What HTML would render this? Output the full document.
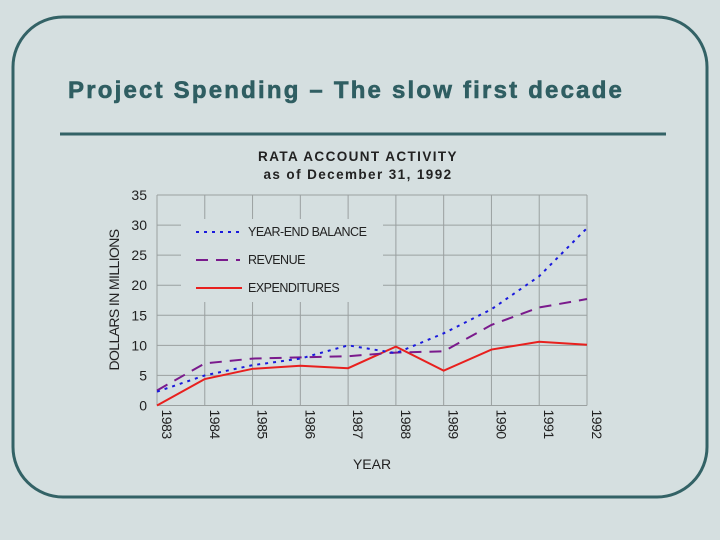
<!DOCTYPE html>
<html><head><meta charset="utf-8"><style>
body{margin:0;background:#d5dfe0;}
svg{display:block;font-family:"Liberation Sans",sans-serif;}
</style></head><body>
<svg id="s" width="720" height="540">
<rect x="0" y="0" width="720" height="540" fill="#d5dfe0"/>
<rect x="13" y="17" width="694" height="480" rx="50" ry="50" fill="none" stroke="#336266" stroke-width="3"/>
<text x="68" y="98" font-size="24" font-weight="bold" fill="#2f5e62" letter-spacing="2.2" stroke="#2f5e62" stroke-width="0.6">Project Spending – The slow first decade</text>
<line x1="60" y1="134" x2="666" y2="134" stroke="#336266" stroke-width="3"/>
<text x="358" y="161" font-size="13.5" font-weight="bold" text-anchor="middle" fill="#222" letter-spacing="1.4">RATA ACCOUNT ACTIVITY</text>
<text x="358" y="179" font-size="13.5" font-weight="bold" text-anchor="middle" fill="#222" letter-spacing="1.4">as of December 31, 1992</text>
<g id="grid"></g>
<rect x="181" y="219" width="202" height="83" fill="#d5dfe0"/>
<g id="series"></g>
<g id="axes"></g>
<text transform="translate(119,300) rotate(-90)" font-size="14" text-anchor="middle" fill="#222" letter-spacing="-0.6">DOLLARS IN MILLIONS</text>
<text x="372" y="469" font-size="14" text-anchor="middle" fill="#222">YEAR</text>
<g>
<line x1="196" y1="232" x2="240" y2="232" stroke="#1a1adc" stroke-width="2" stroke-dasharray="3,5"/>
<text x="248" y="236" font-size="12.5" fill="#222" letter-spacing="-0.5">YEAR-END BALANCE</text>
<line x1="196" y1="260" x2="240" y2="260" stroke="#7a1a8c" stroke-width="2" stroke-dasharray="12,8"/>
<text x="248" y="264" font-size="12.5" fill="#222" letter-spacing="-0.5">REVENUE</text>
<line x1="196" y1="288" x2="242" y2="288" stroke="#e8201e" stroke-width="2"/>
<text x="248" y="292" font-size="12.5" fill="#222" letter-spacing="-0.5">EXPENDITURES</text>
</g>
</svg>
<script>
const years = ["1983","1984","1985","1986","1987","1988","1989","1990","1991","1992"];
const balance = [2.3,5,6.7,7.8,10,8.7,12,16,21.5,29.5];
const revenue = [2.5,7,7.8,8,8.2,8.8,9,13.4,16.3,17.7];
const expenditures = [0,4.4,6.1,6.6,6.2,9.8,5.8,9.3,10.6,10.1];
const yTicks = [0,5,10,15,20,25,30,35];
const NS="http://www.w3.org/2000/svg";
const x0=157,x1=587,y0=405.5,y1=195;
function xs(i){return x0+(x1-x0)*i/(years.length-1);}
function ys(v){return y0-(y0-y1)*v/35;}
function mk(t,a,p){const e=document.createElementNS(NS,t);for(const k in a)e.setAttribute(k,a[k]);p.appendChild(e);return e;}
const grid=document.getElementById('grid'),axes=document.getElementById('axes'),ser=document.getElementById('series');
yTicks.forEach(v=>{
 const l=mk('line',{x1:x0,x2:x1,y1:ys(v),y2:ys(v),stroke:'#9aa0a0','stroke-width':1},grid);
 
 
 const t=mk('text',{x:x0-10,y:ys(v)+5,'font-size':14,'text-anchor':'end',fill:'#222'},axes);
 t.textContent=v;
 
 
});
years.forEach((y,i)=>{
 const l=mk('line',{x1:xs(i),x2:xs(i),y1:y1,y2:y0,stroke:'#9aa0a0','stroke-width':1},grid);
 
 
 const t=mk('text',{transform:`translate(${xs(i)+5},${y0+4}) rotate(90)`,'font-size':14,fill:'#222','letter-spacing':'-0.5'},axes);
 t.textContent=y;
 
 
});
function line(d,st,dash,name){
 const p=mk('polyline',{points:d.map((v,i)=>xs(i)+','+ys(v)).join(' '),fill:'none',stroke:st,'stroke-width':2,'stroke-dasharray':dash},ser);
 
 
}
line(expenditures,'#e8201e','none','expenditures-line');
line(revenue,'#7a1a8c','12,8','revenue-line');
line(balance,'#1a1adc','3,5','balance-line');
</script>
</body></html>
